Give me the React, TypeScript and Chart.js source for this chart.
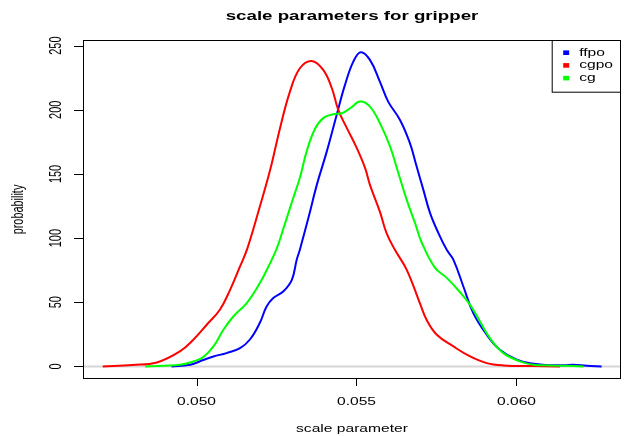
import { useEffect, useRef } from "react";
import { Chart, registerables } from "chart.js";

Chart.register(...registerables);

// ---- text / labels ----
const titleText = "scale parameters for gripper";
const xTitle = "scale parameter";
const yTitle = "probability";
const seriesNames = ["ffpo", "cgpo", "cg"];
const seriesColors = ["#0000ff", "#ff0000", "#00ff00"];

// ---- axes ----
const xTickValues = [0.05, 0.055, 0.06];
const xTickLabels = ["0.050", "0.055", "0.060"];
const yTickValues = [0, 50, 100, 150, 200, 250];
const yTickLabels = ["0", "50", "100", "150", "200", "250"];
const xRange = [0.046453, 0.063266];
const yRange = [-9.78, 254.4];

// ---- series (density estimates) ----
const ffpoX = [0.04922, 0.0498, 0.05021, 0.05053, 0.05094, 0.05136, 0.05167, 0.05198, 0.05219, 0.0524, 0.05271, 0.05298, 0.05313, 0.05323, 0.0535, 0.05376, 0.05407, 0.05438, 0.05464, 0.0549, 0.05513, 0.05542, 0.05573, 0.05599, 0.05636, 0.05667, 0.05688, 0.05709, 0.0573, 0.05756, 0.05782, 0.05803, 0.05834, 0.05865, 0.05907, 0.05948, 0.06001, 0.06053, 0.061, 0.0615, 0.06178, 0.0622, 0.06266];
const ffpoY = [0, 1.3, 5, 7.8, 10.4, 14.3, 21, 34, 46.7, 53.3, 58.4, 67.5, 83, 91, 116, 141.5, 167.4, 196, 219.4, 237.5, 244.9, 238.9, 222, 206.4, 192.1, 174, 155.8, 137.6, 119.5, 103.9, 90.9, 83.1, 62.3, 41.6, 24.7, 13, 5.2, 2.1, 1.0, 1.0, 1.3, 0.5, 0];

const cgpoX = [0.04707, 0.048, 0.04876, 0.04948, 0.0499, 0.05032, 0.05073, 0.05105, 0.05136, 0.05159, 0.05198, 0.0523, 0.05261, 0.05292, 0.05323, 0.0536, 0.05396, 0.05423, 0.05443, 0.0547, 0.05501, 0.05527, 0.05542, 0.05573, 0.05594, 0.0562, 0.05657, 0.05698, 0.05719, 0.05751, 0.05803, 0.05855, 0.05907, 0.05959, 0.0605, 0.06136];
const cgpoY = [0, 1.2, 3.1, 11.7, 20.8, 32.5, 44.2, 59.7, 77.9, 92, 124.6, 153, 185.7, 214.2, 232.4, 238.1, 231.1, 216.8, 199.9, 185.7, 170.1, 154.5, 141.5, 120.7, 103.9, 90.9, 75.3, 49.4, 36.4, 24.7, 15.6, 7.8, 2.6, 0.8, 0.3, 0];

const cgX = [0.04839, 0.04948, 0.0499, 0.05021, 0.05053, 0.05084, 0.05115, 0.05157, 0.05198, 0.0523, 0.05251, 0.05271, 0.05298, 0.05323, 0.05344, 0.0537, 0.05396, 0.05427, 0.05454, 0.0548, 0.05511, 0.05542, 0.05573, 0.05605, 0.05631, 0.05657, 0.05683, 0.05703, 0.05745, 0.05782, 0.05823, 0.05855, 0.05886, 0.05917, 0.05959, 0.06011, 0.06053, 0.061, 0.0615, 0.06209];
const cgY = [0, 1.3, 3.9, 7.3, 15.6, 28.6, 38.9, 49.4, 65, 80.5, 92, 107, 128, 147, 167.4, 185, 193.5, 196.6, 197.3, 201.2, 206.4, 202.5, 189.6, 171.3, 150.6, 129.8, 111.7, 97, 77, 69, 58, 48, 35, 22, 10.4, 4, 1.3, 0.8, 0.5, 0];

const seriesX = [ffpoX, cgpoX, cgX];
const seriesY = [ffpoY, cgpoY, cgY];

const FONT = "'Liberation Sans', Arial, Helvetica, sans-serif";
const SX = 1.3;
const SY = 0.908;

function drawText(
  ctx: CanvasRenderingContext2D,
  s: string,
  x: number,
  y: number,
  font: string,
  align: CanvasTextAlign,
  baseline: CanvasTextBaseline,
  rotate = false
) {
  ctx.save();
  ctx.translate(x, y);
  ctx.scale(SX, SY);
  if (rotate) ctx.rotate(-Math.PI / 2);
  ctx.font = font;
  ctx.textAlign = align;
  ctx.textBaseline = baseline;
  ctx.fillStyle = "#000";
  ctx.fillText(s, 0, 0);
  ctx.restore();
}

const rPlugin = {
  id: "rstyle",
  beforeDatasetsDraw(chart: any) {
    const { ctx, chartArea } = chart;
    const y0 = chart.scales.y.getPixelForValue(0);
    ctx.save();
    ctx.strokeStyle = "#d6d6d6";
    ctx.lineWidth = 2;
    ctx.beginPath();
    ctx.moveTo(chartArea.left, y0);
    ctx.lineTo(chartArea.right, y0);
    ctx.stroke();
    ctx.restore();
  },
  afterDraw(chart: any) {
    const { ctx, chartArea } = chart;
    const xs = chart.scales.x;
    const ys = chart.scales.y;
    const L = chartArea.left, R = chartArea.right, T = chartArea.top, B = chartArea.bottom;
    ctx.save();
    ctx.strokeStyle = "#000";
    ctx.lineWidth = 1;
    ctx.strokeRect(L + 0.5, T + 0.5, R - L - 1, B - T - 1);

    ctx.beginPath();
    xTickValues.forEach((v) => {
      const px = Math.round(xs.getPixelForValue(v)) + 0.5;
      ctx.moveTo(px, B);
      ctx.lineTo(px, B + 7);
    });
    yTickValues.forEach((v) => {
      const py = Math.round(ys.getPixelForValue(v)) + 0.5;
      ctx.moveTo(L, py);
      ctx.lineTo(L - 9, py);
    });
    ctx.stroke();
    ctx.restore();

    const f12 = `12px ${FONT}`;
    xTickValues.forEach((v, i) => {
      drawText(ctx, xTickLabels[i], xs.getPixelForValue(v), B + 25.5, f12, "center", "alphabetic");
    });
    yTickValues.forEach((v, i) => {
      drawText(ctx, yTickLabels[i], L - 22, ys.getPixelForValue(v), f12, "center", "alphabetic", true);
    });
    const cx = (L + R) / 2;
    drawText(ctx, xTitle, cx, B + 53, f12, "center", "alphabetic");
    drawText(ctx, yTitle, L - 60, (T + B) / 2, f12, "center", "alphabetic", true);
    drawText(ctx, titleText, cx, 20, `bold 14.4px ${FONT}`, "center", "alphabetic");

    const lw = 69.3, lh = 51.7;
    ctx.save();
    ctx.strokeStyle = "#000";
    ctx.lineWidth = 1;
    ctx.strokeRect(R - lw + 0.5, T + 0.5, lw - 1, lh);
    seriesNames.forEach((name, i) => {
      const ry = T + 12.7 * (i + 1);
      ctx.fillStyle = seriesColors[i];
      ctx.fillRect(R - lw + 11.5, ry - 2.3, 6, 4.6);
      drawText(ctx, name, R - lw + 27.5, ry, f12, "left", "middle");
    });
    ctx.restore();
  },
};

export default function App() {
  const ref = useRef<HTMLCanvasElement>(null);
  useEffect(() => {
    document.body.style.margin = "0";
    const canvas = ref.current!;
    const chart = new Chart(canvas, {
      type: "line",
      data: {
        datasets: seriesNames.map((name, i) => ({
          label: name,
          data: seriesX[i].map((x, j) => ({ x, y: seriesY[i][j] })),
          borderColor: seriesColors[i],
          backgroundColor: seriesColors[i],
          borderWidth: 2,
          pointRadius: 0,
          fill: false,
          tension: 0.4,
          order: 3 - i,
        })),
      },
      options: {
        responsive: false,
        animation: false,
        devicePixelRatio: 1,
        layout: { padding: { top: 40, right: 3, left: 0, bottom: 0 } },
        plugins: {
          legend: { display: false },
          title: { display: false },
          tooltip: { enabled: false },
        },
        scales: {
          x: {
            type: "linear",
            min: xRange[0],
            max: xRange[1],
            grid: { display: false },
            border: { display: false },
            ticks: { display: false },
            afterFit: (s: any) => {
              s.height = 57;
            },
          },
          y: {
            type: "linear",
            min: yRange[0],
            max: yRange[1],
            grid: { display: false },
            border: { display: false },
            ticks: { display: false },
            afterFit: (s: any) => {
              s.width = 83;
            },
          },
        },
      },
      plugins: [rPlugin],
    });
    return () => chart.destroy();
  }, []);
  return <canvas ref={ref} width={624} height={436} style={{ display: "block" }} />;
}
